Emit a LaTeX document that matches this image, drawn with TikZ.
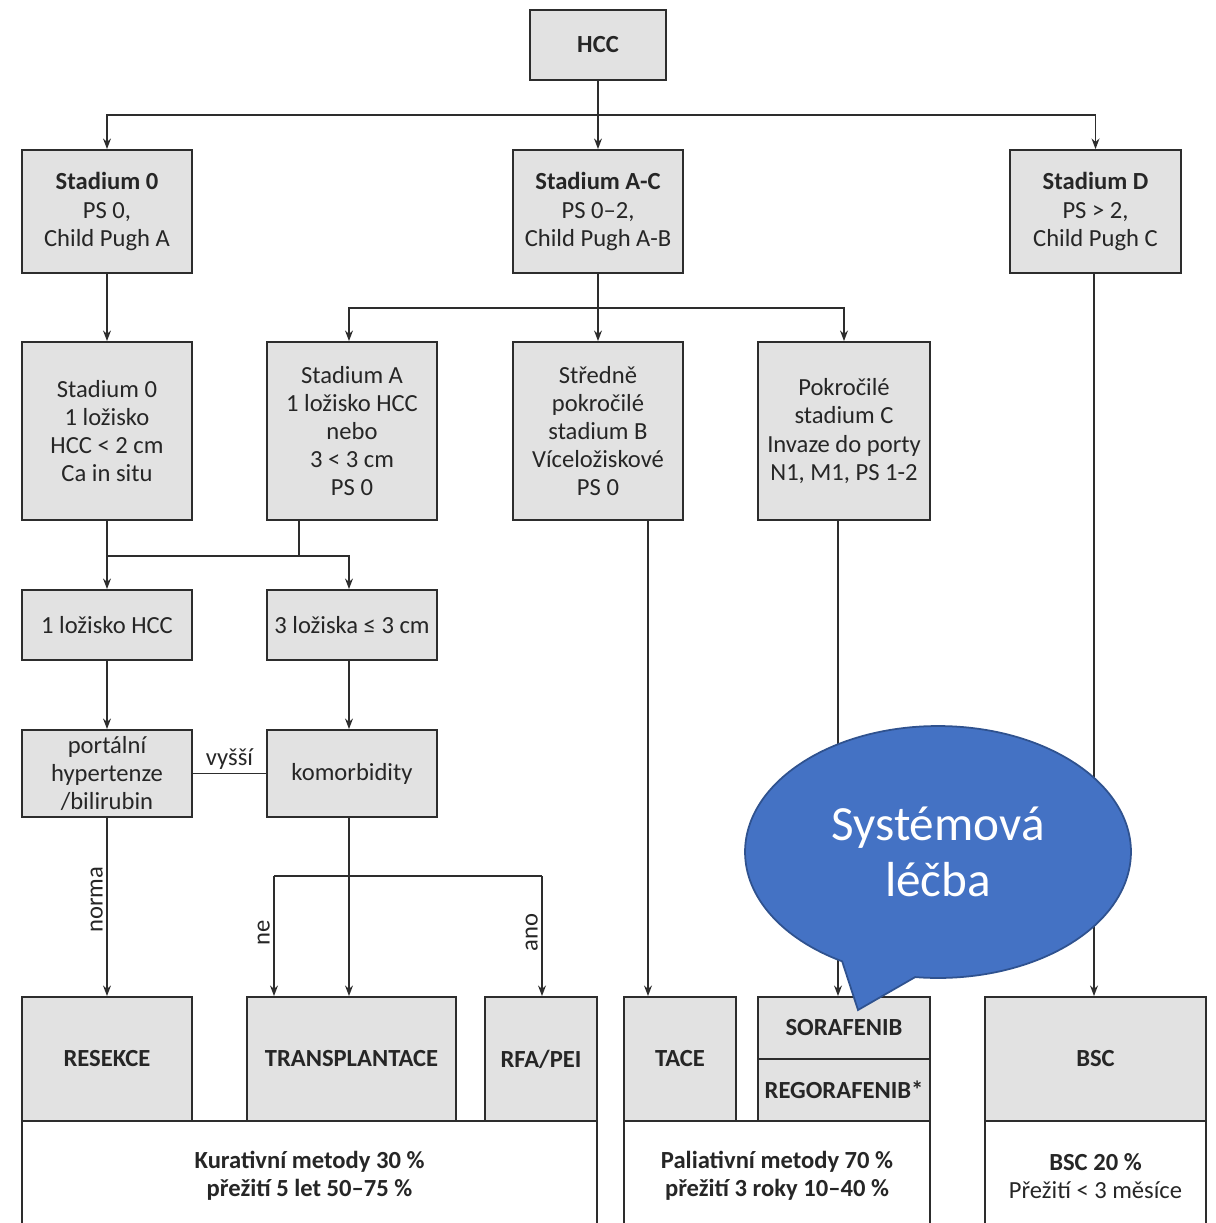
\documentclass[tikz,border=0pt]{standalone}
\usepackage{fontspec}
\setmainfont{Carlito}
\usetikzlibrary{arrows.meta,shapes.callouts}
\definecolor{boxgray}{RGB}{226,226,226}
\definecolor{lineg}{RGB}{45,45,45}
\definecolor{bubblefill}{RGB}{68,114,196}
\definecolor{bubbleline}{RGB}{47,82,143}
\tikzset{
  box/.style={draw=lineg, line width=1.1pt, fill=boxgray, align=center, inner sep=0pt,
    text=black!85, font=\fontsize{14}{16}\selectfont},
  foot/.style={box, fill=white},
  arr/.style={-{Stealth[length=6pt,width=4.5pt]}, draw=lineg, line width=0.8pt},
  ln/.style={draw=lineg, line width=0.8pt},
  lbl/.style={font=\fontsize{14}{16}\selectfont, text=black!85, inner sep=2pt},
}

\begin{document}
\begin{tikzpicture}[x=0.02cm, y=-0.02cm]
    \useasboundingbox (0,0) rectangle (1215,1223);

    \node[box, minimum width=2.72cm, minimum height=1.4cm] (hcc) at (598,45) {\textbf{HCC}};

    \node[box, minimum width=3.4cm, minimum height=2.46cm] (st0) at (107,211.5) {\textbf{Stadium 0}\\PS 0,\\Child Pugh A};
    \node[box, minimum width=3.4cm, minimum height=2.46cm] (stac) at (598,211.5) {\textbf{Stadium A-C}\\PS 0–2,\\Child Pugh A-B};
    \node[box, minimum width=3.42cm, minimum height=2.46cm] (std) at (1095.5,211.5) {\textbf{Stadium D}\\PS > 2,\\Child Pugh C};

    \node[box, minimum width=3.4cm, minimum height=3.56cm] (s0d) at (107,431) {Stadium 0\\1 ložisko\\HCC < 2 cm\\Ca in situ};
    \node[box, minimum width=3.4cm, minimum height=3.56cm] (sa) at (352,431) {Stadium A\\1 ložisko HCC\\nebo\\3 < 3 cm\\PS 0};
    \node[box, minimum width=3.4cm, minimum height=3.56cm] (sb) at (598,431) {Středně\\pokročilé\\stadium B\\Víceložiskové\\PS 0};
    \node[box, minimum width=3.44cm, minimum height=3.56cm] (sc) at (844,431) {Pokročilé\\stadium C\\Invaze do porty\\N1, M1, PS 1-2};

    \node[box, minimum width=3.4cm, minimum height=1.4cm] (l1) at (107,625) {1 ložisko HCC};
    \node[box, minimum width=3.4cm, minimum height=1.4cm] (l3) at (352,625) {3 ložiska ≤ 3 cm};

    \node[box, minimum width=3.4cm, minimum height=1.74cm] (port) at (107,773.5) {portální\\hypertenze\\/bilirubin};
    \node[box, minimum width=3.4cm, minimum height=1.74cm] (komorb) at (352,773.5) {komorbidity};

    \node[box, minimum width=3.4cm, minimum height=2.48cm] (res) at (107,1059) {\textbf{RESEKCE}};
    \node[box, minimum width=4.18cm, minimum height=2.48cm] (trans) at (351.5,1059) {\textbf{TRANSPLANTACE}};
    \node[box, minimum width=2.24cm, minimum height=2.48cm] (rfa) at (541,1059) {\textbf{RFA/PEI}};
    \node[box, minimum width=2.24cm, minimum height=2.48cm] (tace) at (680,1059) {\textbf{TACE}};
    \node[box, minimum width=3.44cm, minimum height=1.24cm] (sora) at (844,1028) {\textbf{SORAFENIB}};
    \node[box, minimum width=3.44cm, minimum height=1.24cm] (rego) at (844,1090) {\textbf{REGORAFENIB*}};
    \node[box, minimum width=4.42cm, minimum height=2.48cm] (bsc) at (1095.5,1059) {\textbf{BSC}};

    \node[foot, minimum width=11.5cm, minimum height=2.2cm] (kur) at (309.5,1176) {\textbf{Kurativní metody 30 \%}\\\textbf{přežití 5 let 50–75 \%}};
    \node[foot, minimum width=6.12cm, minimum height=2.2cm] (pal) at (777,1176) {\textbf{Paliativní metody 70 \%}\\\textbf{přežití 3 roky 10–40 \%}};
    \node[foot, minimum width=4.42cm, minimum height=2.2cm] (bscb) at (1095.5,1176) {\textbf{BSC 20 \%}\\Přežití < 3 měsíce};

    \coordinate (t1) at (598,115);
    \coordinate (t2) at (598,308);
    \coordinate (j0) at (107,556);
    \coordinate (aj) at (299,556);
    \coordinate (ax) at (349,556);
    \coordinate (kl) at (274,876);
    \coordinate (kr) at (542,876);
    \coordinate (tj) at (648,520);
    \coordinate (cj) at (838,520);
    \coordinate (dj) at (1094,273);

    \draw[arr] (hcc) -- (stac);
    \draw[arr] (t1) -| (st0);
    \draw[arr] (t1) -| (std);

    \draw[arr] (st0) -- (s0d);
    \draw[arr] (stac) -- (sb);
    \draw[arr] (t2) -| (ax |- sa.north);
    \draw[arr] (t2) -| (sc);

    \draw[arr] (s0d) -- (l1);
    \draw[ln] (aj |- sa.south) -- (aj);
    \draw[arr] (j0) -| (ax |- l3.north);

    \draw[arr] (l1) -- (port);
    \draw[arr] (ax |- l3.south) -- (ax |- komorb.north);
    \draw[ln] (port) -- node[lbl, above] {vyšší} (komorb);

    \draw[arr] (port) -- node[lbl, rotate=90, above, pos=0.46] {norma} (res);
    \draw[arr] (ax |- komorb.south) -- (ax |- trans.north);
    \draw[ln] (kl) -- (kr);
    \draw[arr] (kl) -- node[lbl, rotate=90, above, pos=0.47] {ne} (kl |- trans.north);
    \draw[arr] (kr) -- node[lbl, rotate=90, above, pos=0.47] {ano} (kr |- rfa.north);

    \draw[arr] (tj) -- (tj |- tace.north);
    \draw[arr] (cj) -- (cj |- sora.north);
    \draw[arr] (dj) -- (dj |- bsc.north);

    % callout
    \node[ellipse callout, callout absolute pointer={(858,1010)}, callout pointer arc=23,
      fill=bubblefill, draw=bubbleline, line width=1pt, text=white, align=center,
      minimum width=7.72cm, minimum height=5.04cm, inner sep=0pt,
      font=\fontsize{28}{32}\selectfont] (bubble) at (938,852) {Systémová\\léčba};
\end{tikzpicture}
\end{document}
